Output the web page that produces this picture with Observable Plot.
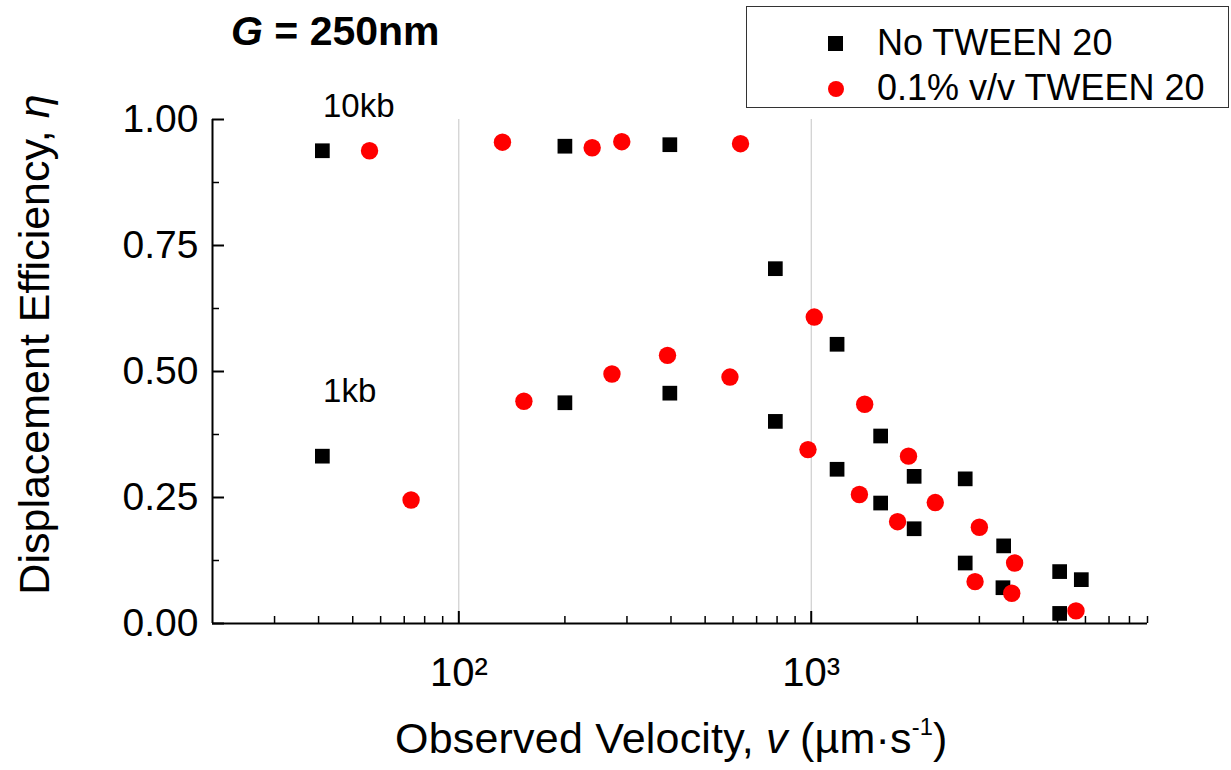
<!DOCTYPE html>
<html>
<head>
<meta charset="utf-8">
<script src="https://cdn.jsdelivr.net/npm/d3@7"></script>
<script src="https://cdn.jsdelivr.net/npm/@observablehq/plot@0.6"></script>
<style>
  html, body { margin: 0; padding: 0; background: #fff; }
  body { font-family: "Liberation Sans", Arial, sans-serif; color: #000; }
  #wrap { position: relative; width: 1231px; height: 770px; overflow: hidden; }
  #chart { position: absolute; left: 0; top: 0; }
  .abs { position: absolute; white-space: nowrap; line-height: 1; }
  #title { left: 231px; top: 11px; font-size: 41px; font-weight: bold; }
  #legend { position: absolute; left: 746px; top: 6px; width: 483px; height: 102px; border: 1.5px solid #333; box-sizing: border-box; background: #fff; }
  .legtext { font-size: 36px; }
  .sq { position: absolute; width: 15px; height: 15px; background: #000; }
  .ci { position: absolute; width: 16px; height: 16px; border-radius: 50%; background: #ff0000; }
  #xtitle { left: 395px; top: 717px; font-size: 43px; letter-spacing: 0.2px; }
  #ytitle { left: -266px; top: 323px; width: 600px; height: 43px; text-align: center; font-size: 43px; transform: rotate(-90deg); }
  sup { font-size: 0.55em; vertical-align: 0.75em; line-height: 0; }
</style>
</head>
<body>
<div id="wrap">
  <div id="chart"></div>
  <div id="title" class="abs"><i>G</i> = 250nm</div>
  <div id="legend"></div>
  <div id="xtitle" class="abs">Observed Velocity, <i>v</i> (µm·s<sup>-1</sup>)</div>
  <div id="ytitle" class="abs">Displacement Efficiency, <i>η</i></div>
</div>
<script>
// ---- Data ----
const seriesNames = ["No TWEEN 20", "0.1% v/v TWEEN 20"];

const noTween10kbV   = [41, 200, 397, 791, 1184, 1574, 1959, 2735, 3516, 5070, 5840];
const noTween10kbEta = [0.938, 0.947, 0.950, 0.704, 0.554, 0.372, 0.292, 0.287, 0.154, 0.103, 0.087];
const noTween1kbV    = [41, 200, 397, 791, 1184, 1574, 1959, 2735, 3500, 5070];
const noTween1kbEta  = [0.332, 0.438, 0.457, 0.401, 0.306, 0.239, 0.188, 0.120, 0.071, 0.020];

const tween10kbV     = [55.8, 133, 239, 290, 630, 1020, 1418, 1888, 3000, 3777, 5640];
const tween10kbEta   = [0.938, 0.955, 0.944, 0.956, 0.952, 0.608, 0.435, 0.332, 0.191, 0.120, 0.025];
const tween1kbV      = [73.2, 153, 272, 391, 588, 979, 1370, 1758, 2249, 2917, 3707];
const tween1kbEta    = [0.245, 0.441, 0.495, 0.532, 0.489, 0.345, 0.256, 0.202, 0.240, 0.083, 0.060];

const annotLabels = ["10kb", "1kb"];
const annotV      = [52, 49];
const annotEta    = [1.025, 0.46];

const xMajorTicks = [100, 1000];
const xMinorTicks = [30, 40, 50, 60, 70, 80, 90, 200, 300, 400, 500, 600, 700, 800, 900,
                     2000, 3000, 4000, 5000, 6000, 7000, 8000, 9000];
const yMajorTicks = [0, 0.25, 0.5, 0.75, 1.0];
const yMinorTicks = [0.125, 0.375, 0.625, 0.875];

// ---- Build tables ----
const zip = (vs, es) => vs.map((v, i) => ({v, eta: es[i]}));
const blackPts = [...zip(noTween10kbV, noTween10kbEta), ...zip(noTween1kbV, noTween1kbEta)];
const redPts   = [...zip(tween10kbV, tween10kbEta), ...zip(tween1kbV, tween1kbEta)];
const annots   = annotLabels.map((label, i) => ({label, v: annotV[i], eta: annotEta[i]}));

const sup = {"2": "\u00B2", "3": "\u00B3"};
const fmtPow = d => "10" + sup[String(Math.round(Math.log10(d)))];

const chart = Plot.plot({
  width: 1231,
  height: 770,
  marginLeft: 212,
  marginRight: 84,
  marginTop: 119,
  marginBottom: 147,
  x: {type: "log", domain: [20, 9000]},
  y: {domain: [0, 1]},
  style: {fontFamily: "'Liberation Sans', Arial, sans-serif", color: "#000", background: "transparent", overflow: "visible"},
  marks: [
    Plot.gridX(xMajorTicks, {stroke: "#c4c4c4", strokeOpacity: 1, strokeWidth: 1}),
    Plot.axisX(xMinorTicks, {tickSize: -7, tickFormat: () => "", label: null, strokeWidth: 1.5}),
    Plot.axisX(xMajorTicks, {tickSize: -12, tickPadding: 46, tickFormat: fmtPow, label: null, fontSize: 40, strokeWidth: 2}),
    Plot.axisY(yMinorTicks, {tickSize: -7, tickFormat: () => "", label: null, strokeWidth: 1.5}),
    Plot.axisY(yMajorTicks, {tickSize: -12, tickPadding: 26, tickFormat: d3.format(".2f"), label: null, fontSize: 39, strokeWidth: 2}),
    Plot.ruleY([0], {stroke: "#000", strokeWidth: 2}),
    Plot.ruleX([20], {stroke: "#000", strokeWidth: 2}),
    Plot.dot(blackPts, {x: "v", y: "eta", symbol: "square", r: 8.3, fill: "#000"}),
    Plot.dot(redPts, {x: "v", y: "eta", symbol: "circle", r: 8.7, fill: "#ff0000"}),
    Plot.text(annots, {x: "v", y: "eta", text: "label", fontSize: 33, textAnchor: "middle", lineAnchor: "middle", fill: "#000"})
  ]
});
document.getElementById("chart").appendChild(chart);

// ---- Legend (HTML) ----
const legend = document.getElementById("legend");
const rows = [
  {name: seriesNames[0], cls: "sq", mx: 81, my: 29, tx: 130, ty: 18},
  {name: seriesNames[1], cls: "ci", mx: 81, my: 74, tx: 130, ty: 63}
];
rows.forEach(r => {
  const m = document.createElement("div");
  m.className = r.cls;
  m.style.left = r.mx + "px";
  m.style.top = r.my + "px";
  legend.appendChild(m);
  const t = document.createElement("div");
  t.className = "abs legtext";
  t.style.left = r.tx + "px";
  t.style.top = r.ty + "px";
  t.textContent = r.name;
  legend.appendChild(t);
});
</script>
</body>
</html>
